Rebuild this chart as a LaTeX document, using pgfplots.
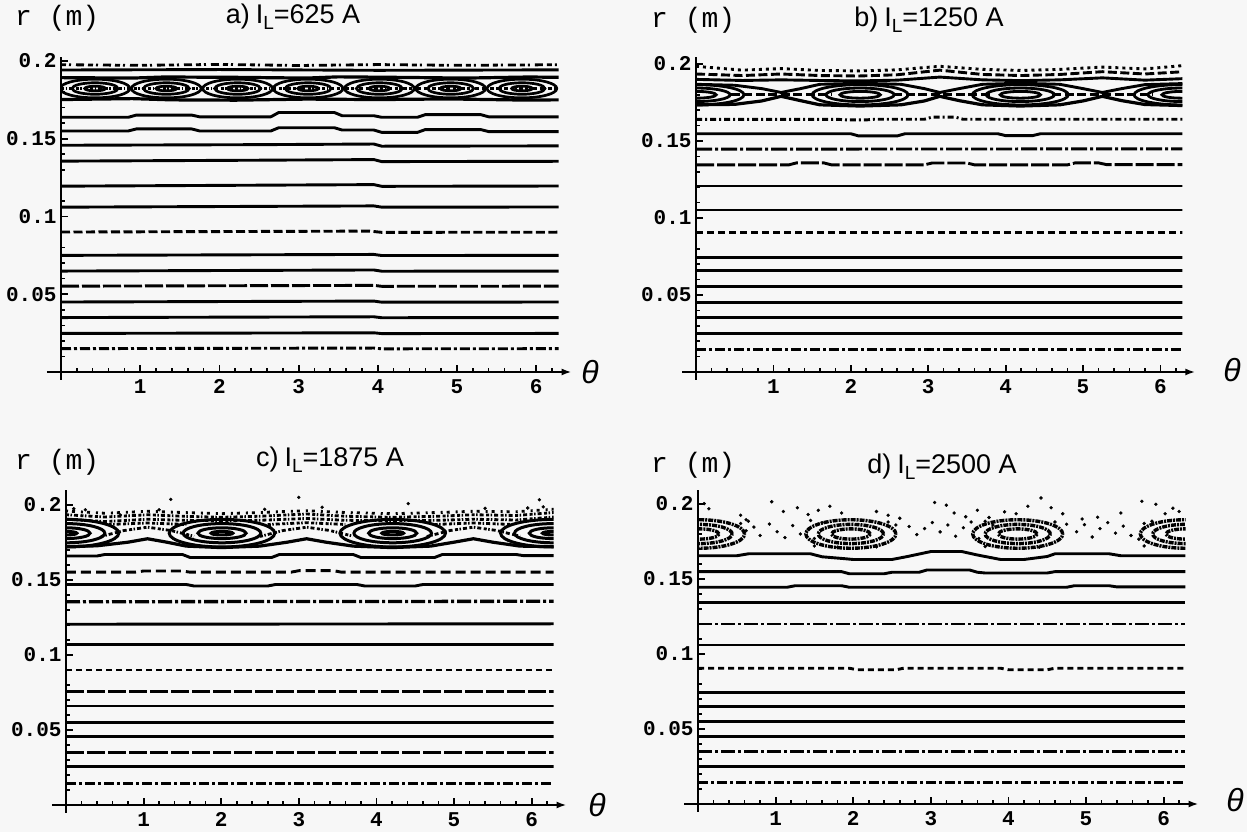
\documentclass[border=0pt]{standalone}
\usepackage{fontspec}
\setmainfont{Liberation Sans}
\newfontfamily\monofont{Liberation Mono}
\usepackage{pgfplots}
\pgfplotsset{compat=1.18}
\usetikzlibrary{arrows.meta}

\newcommand\tickfont{\monofont\bfseries\fontsize{21}{21}\selectfont}
\newcommand\rfont{\monofont\fontsize{28}{28}\selectfont}
\newcommand\titfont{\fontsize{27}{27}\selectfont}
\newcommand\thfont{\fontsize{32}{32}\selectfont\itshape}
\newcommand\IL{I\raisebox{-6pt}{\fontsize{19}{19}\selectfont L}}

% an island ring: half-axes \ringa, \ringb (pt) come from the table
\pgfdeclareplotmark{ring}{%
  \pgfpathellipse{\pgfpointorigin}{\pgfpoint{\ringa pt}{0pt}}{\pgfpoint{0pt}{\ringb pt}}%
  \pgfusepathqstroke}

\pgfplotsset{
  poincare/.style={
    axis lines=middle,
    xmin=0, xmax=6.2832, ymin=0,
    clip=true, clip marker paths=true,
    axis line style={line width=2.2pt, black},
    x axis line style={-{Latex[length=10pt,width=7pt]}, shorten <=-14pt, shorten >=-13pt},
    y axis line style={-, shorten <=-8pt},
    xtick={1,2,3,4,5,6},
    xticklabels={1,2,3,4,5,6},
    minor xtick={0.2,0.4,...,6.2},
    ytick={0.05,0.1,0.15,0.2},
    yticklabels={0.05,0.1,0.15,0.2},
    minor ytick={0.01,0.02,...,0.2},
    tick align=inside,
    major tick length=7pt, minor tick length=4pt,
    tick style={black, line width=1.8pt},
    minor tick style={black, line width=1.6pt},
    ticklabel style={font=\tickfont, text=black},
    xticklabel style={yshift=-4pt},
    yticklabel style={xshift=-1pt},
  },
  orbit/.style={black, solid, line width=2.9pt, line cap=butt, line join=round, mark=none},
  odash/.style={orbit, dash pattern=on 9pt off 3.5pt},
  odot/.style={orbit, dash pattern=on 3pt off 4pt},
  odashdot/.style={orbit, dash pattern=on 10pt off 3pt on 3pt off 3pt},
  olong/.style={orbit, dash pattern=on 18pt off 3pt},
  ochaos/.style={orbit, line width=2.8pt, dash pattern=on 3pt off 1.5pt on 1.5pt off 2pt on 4pt off 2.5pt},
  islands/.style={scatter, only marks, mark=ring, point meta=y,
    scatter/use mapped color={draw=black}},
  dots/.style={only marks, mark=*, mark size=1.5pt, black, mark options={solid, fill=black, draw=black}},
}

\begin{document}
\begin{tikzpicture}
\fill[black!3] (0pt,0pt) rectangle (1247pt,832pt);
\useasboundingbox (0pt,0pt) rectangle (1247pt,832pt);

% ===================== a) I_L = 625 A =====================
\begin{axis}[poincare, at={(61pt,460pt)}, anchor=south west, x=79.2pt, y=1555pt, ymax=0.2026]
% chaotic layer at the top
\addplot[ochaos, dash pattern=on 5pt off 3pt on 2pt off 5pt on 8pt off 4pt] coordinates {(0,0.1976) (1.0,0.1972) (2.0,0.1978) (3.0,0.1971) (4.0,0.1977) (5.0,0.1972) (6.29,0.1976)};
\addplot[orbit] coordinates {(0,0.1942) (2.0,0.1945) (4.0,0.1940) (6.29,0.1943)};
% island chain
\addplot[orbit, line width=3.2pt] coordinates {(0,0.1893) (0.9,0.1890) (1.3,0.1897) (2.2,0.1895) (3.1,0.1890) (3.5,0.1898) (4.2,0.1895) (5.1,0.1890) (5.9,0.1897) (6.29,0.1895)};
\addplot[orbit, line width=3.2pt] coordinates {(0,0.1752) (0.9,0.1758) (1.4,0.1750) (2.2,0.1748) (3.1,0.1755) (4.0,0.1752) (4.9,0.1756) (5.8,0.1749) (6.29,0.1750)};
\addplot[ochaos] coordinates {(0,0.1823) (6.29,0.1823)};
\addplot[islands, mark options={solid, line width=2.7pt},
  visualization depends on={\thisrow{a}*79.2 \as \ringa},
  visualization depends on={\thisrow{b}*1555 \as \ringb}]
  table[row sep=\\] {t r a b\\
  0.43 0.1823 0.44 0.0060\\ 0.43 0.1823 0.29 0.0037\\ 0.43 0.1823 0.13 0.0015\\
  1.33 0.1823 0.44 0.0060\\ 1.33 0.1823 0.29 0.0037\\ 1.33 0.1823 0.13 0.0015\\
  2.23 0.1823 0.44 0.0060\\ 2.23 0.1823 0.29 0.0037\\ 2.23 0.1823 0.13 0.0015\\
  3.12 0.1823 0.44 0.0060\\ 3.12 0.1823 0.29 0.0037\\ 3.12 0.1823 0.13 0.0015\\
  4.02 0.1823 0.44 0.0060\\ 4.02 0.1823 0.29 0.0037\\ 4.02 0.1823 0.13 0.0015\\
  4.92 0.1823 0.44 0.0060\\ 4.92 0.1823 0.29 0.0037\\ 4.92 0.1823 0.13 0.0015\\
  5.82 0.1823 0.44 0.0060\\ 5.82 0.1823 0.29 0.0037\\ 5.82 0.1823 0.13 0.0015\\
  };
% KAM surfaces
\addplot[orbit] coordinates {(0,0.1638) (0.85,0.1638) (0.95,0.1652) (1.65,0.1652) (1.75,0.1641) (2.65,0.1641) (2.75,0.1669) (3.45,0.1669) (3.55,0.1648) (3.95,0.1648) (4.05,0.1638) (4.5,0.1638) (4.6,0.1655) (5.3,0.1655) (5.4,0.1641) (6.29,0.1641)};
\addplot[orbit] coordinates {(0,0.1550) (0.85,0.1550) (0.95,0.1563) (1.65,0.1563) (1.75,0.1550) (2.65,0.1550) (2.75,0.1571) (3.45,0.1571) (3.55,0.1556) (3.95,0.1556) (4.05,0.1541) (4.5,0.1541) (4.6,0.1559) (5.3,0.1559) (5.4,0.1546) (6.29,0.1546)};
\addplot[orbit] coordinates {(0,0.1458) (2.5,0.1462) (3.95,0.1466) (4.05,0.1452) (6.29,0.1454)};
\addplot[orbit] coordinates {(0,0.1356) (2.5,0.1362) (3.95,0.1366) (4.05,0.1353) (6.29,0.1355)};
\addplot[orbit] coordinates {(0,0.1195) (3.95,0.1205) (4.05,0.1194) (6.29,0.1196)};
\addplot[orbit] coordinates {(0,0.1060) (3.95,0.1068) (4.05,0.1060) (6.29,0.1061)};
\addplot[odash] coordinates {(0,0.0900) (3.9,0.0906) (4.05,0.0898) (6.29,0.0899)};
\addplot[orbit] coordinates {(0,0.0750) (3.95,0.0756) (4.05,0.0749) (6.29,0.0750)};
\addplot[orbit] coordinates {(0,0.0649) (3.95,0.0656) (4.05,0.0648) (6.29,0.0649)};
\addplot[olong] coordinates {(0,0.0552) (3.95,0.0557) (4.05,0.0551) (6.29,0.0552)};
\addplot[orbit] coordinates {(0,0.0450) (3.95,0.0456) (4.05,0.0449) (6.29,0.0450)};
\addplot[orbit] coordinates {(0,0.0350) (3.95,0.0355) (4.05,0.0349) (6.29,0.0350)};
\addplot[orbit] coordinates {(0,0.0248) (3.95,0.0252) (4.05,0.0247) (6.29,0.0248)};
\addplot[odashdot] coordinates {(0,0.0150) (3.95,0.0154) (4.05,0.0149) (6.29,0.0150)};
\end{axis}

% ===================== b) I_L = 1250 A =====================
\begin{axis}[poincare, at={(696pt,460pt)}, anchor=south west, x=77.4pt, y=1540pt, ymax=0.2045]
\addplot[odot] coordinates {(0,0.1985) (0.6,0.1960) (1.1,0.1970) (1.6,0.1958) (2.1,0.1955) (2.6,0.1962) (3.15,0.1985) (3.7,0.1965) (4.2,0.1958) (4.7,0.1965) (5.25,0.1980) (5.8,0.1968) (6.3,0.1990)};
\addplot[odash] coordinates {(0,0.1935) (0.6,0.1925) (1.1,0.1935) (1.6,0.1925) (2.1,0.1922) (2.6,0.1930) (3.15,0.1960) (3.7,0.1932) (4.2,0.1925) (4.7,0.1932) (5.25,0.1950) (5.8,0.1935) (6.3,0.1950)};
\addplot[orbit] coordinates {(0,0.1900) (0.6,0.1893) (1.1,0.1897) (1.6,0.1893) (2.1,0.1890) (2.6,0.1895) (3.15,0.1915) (3.7,0.1897) (4.2,0.1892) (4.7,0.1897) (5.25,0.1910) (5.8,0.1895) (6.3,0.1905)};
\addplot[orbit] coordinates {(0,0.1868) (0.5,0.1862) (0.85,0.1840) (1.1,0.1815) (1.35,0.1840) (1.6,0.1868) (2.12,0.1875) (2.65,0.1868) (2.95,0.1840) (3.15,0.1815) (3.4,0.1840) (3.7,0.1868) (4.19,0.1875) (4.7,0.1868) (5.0,0.1840) (5.25,0.1815) (5.5,0.1840) (5.8,0.1866) (6.3,0.1873)};
\addplot[orbit, line width=3.2pt] coordinates {(0,0.1735) (0.5,0.1738) (0.85,0.1760) (1.1,0.1790) (1.35,0.1762) (1.6,0.1735) (2.12,0.1727) (2.65,0.1735) (2.95,0.1760) (3.15,0.1790) (3.4,0.1762) (3.7,0.1735) (4.19,0.1727) (4.7,0.1735) (5.0,0.1760) (5.25,0.1790) (5.5,0.1762) (5.8,0.1737) (6.3,0.1730)};
\addplot[odash] coordinates {(0.45,0.1800) (1.75,0.1800)};
\addplot[odash] coordinates {(2.55,0.1800) (3.8,0.1800)};
\addplot[odash] coordinates {(4.6,0.1800) (5.9,0.1800)};
\addplot[islands, mark options={solid, line width=2.8pt},
  visualization depends on={\thisrow{a}*77.4 \as \ringa},
  visualization depends on={\thisrow{b}*1540 \as \ringb}]
  table[row sep=\\] {t r a b\\
  0.00 0.1800 0.62 0.0066\\ 0.00 0.1800 0.44 0.0044\\ 0.00 0.1800 0.26 0.0022\\
  2.12 0.1800 0.62 0.0066\\ 2.12 0.1800 0.44 0.0044\\ 2.12 0.1800 0.26 0.0022\\
  4.19 0.1800 0.62 0.0066\\ 4.19 0.1800 0.44 0.0044\\ 4.19 0.1800 0.26 0.0022\\
  6.28 0.1800 0.62 0.0066\\ 6.28 0.1800 0.44 0.0044\\ 6.28 0.1800 0.26 0.0022\\
  };
\addplot[odash, dash pattern=on 6pt off 3pt on 2pt off 3pt] coordinates {(0,0.1640) (1.85,0.1640) (1.95,0.1637) (2.2,0.1637) (2.3,0.1641) (2.95,0.1641) (3.05,0.1655) (3.35,0.1655) (3.45,0.1641) (6.3,0.1641)};
\addplot[orbit] coordinates {(0,0.1547) (2.0,0.1547) (2.1,0.1533) (2.6,0.1533) (2.7,0.1547) (3.9,0.1547) (4.0,0.1535) (4.35,0.1535) (4.45,0.1547) (6.3,0.1547)};
\addplot[odashdot, dash pattern=on 16pt off 3pt on 3pt off 3pt] coordinates {(0,0.1447) (6.3,0.1449)};
\addplot[olong] coordinates {(0,0.1345) (1.2,0.1345) (1.3,0.1358) (1.65,0.1358) (1.75,0.1345) (2.95,0.1345) (3.05,0.1357) (3.5,0.1357) (3.6,0.1345) (4.8,0.1345) (4.9,0.1358) (5.2,0.1358) (5.3,0.1347) (6.3,0.1347)};
\addplot[orbit] coordinates {(0,0.1208) (6.3,0.1208)};
\addplot[orbit] coordinates {(0,0.1052) (6.3,0.1052)};
\addplot[odash, dash pattern=on 7pt off 4pt] coordinates {(0,0.0905) (6.3,0.0905)};
\addplot[orbit] coordinates {(0,0.0746) (6.3,0.0746)};
\addplot[orbit] coordinates {(0,0.0658) (6.3,0.0658)};
\addplot[orbit] coordinates {(0,0.0558) (6.3,0.0558)};
\addplot[orbit] coordinates {(0,0.0450) (6.3,0.0450)};
\addplot[orbit] coordinates {(0,0.0355) (6.3,0.0355)};
\addplot[orbit] coordinates {(0,0.0251) (6.3,0.0251)};
\addplot[odashdot] coordinates {(0,0.0147) (6.3,0.0147)};
\end{axis}

% ===================== c) I_L = 1875 A =====================
\begin{axis}[poincare, at={(66pt,27pt)}, anchor=south west, x=77.6pt, y=1500pt, ymax=0.21]
\addplot[ochaos, dash pattern=on 2pt off 4pt on 3pt off 6pt] coordinates {(0,0.1960) (0.5,0.1945) (1.05,0.1958) (1.5,0.1950) (2.0,0.1942) (2.5,0.1950) (3.1,0.1962) (3.6,0.1950) (4.2,0.1942) (4.8,0.1950) (5.25,0.1958) (5.8,0.1955) (6.29,0.1972)};
\addplot[ochaos] coordinates {(0,0.1935) (0.5,0.1920) (1.05,0.1935) (1.5,0.1925) (2.0,0.1918) (2.5,0.1925) (3.1,0.1940) (3.6,0.1925) (4.2,0.1918) (4.8,0.1925) (5.25,0.1935) (5.8,0.1930) (6.29,0.1950)};
\addplot[ochaos] coordinates {(0,0.1905) (0.5,0.1890) (1.05,0.1905) (1.5,0.1898) (2.0,0.1895) (2.5,0.1898) (3.1,0.1910) (3.6,0.1898) (4.2,0.1895) (4.8,0.1898) (5.25,0.1905) (5.8,0.1900) (6.29,0.1920)};
\addplot[ochaos] coordinates {(0.45,0.1790) (0.75,0.1830) (1.05,0.1852) (1.35,0.1830) (1.65,0.1792)};
\addplot[ochaos] coordinates {(2.5,0.1790) (2.8,0.1830) (3.1,0.1852) (3.4,0.1830) (3.7,0.1792)};
\addplot[ochaos] coordinates {(4.65,0.1790) (4.95,0.1830) (5.25,0.1852) (5.55,0.1830) (5.85,0.1792)};
\addplot[ochaos] coordinates {(0.55,0.1870) (1.05,0.1880) (1.55,0.1870)};
\addplot[ochaos] coordinates {(2.6,0.1870) (3.1,0.1882) (3.6,0.1870)};
\addplot[ochaos] coordinates {(4.75,0.1870) (5.25,0.1880) (5.75,0.1870)};
\addplot[orbit, line width=3.2pt] coordinates {(0,0.1722) (0.4,0.1728) (0.8,0.1752) (1.05,0.1775) (1.3,0.1752) (1.55,0.1726) (2.0,0.1716) (2.5,0.1726) (2.85,0.1752) (3.1,0.1775) (3.35,0.1752) (3.7,0.1726) (4.2,0.1716) (4.7,0.1726) (5.0,0.1752) (5.25,0.1775) (5.5,0.1752) (5.85,0.1726) (6.29,0.1722)};
\addplot[islands, mark options={solid, line width=3pt},
  visualization depends on={\thisrow{a}*77.6 \as \ringa},
  visualization depends on={\thisrow{b}*1500 \as \ringb}]
  table[row sep=\\] {t r a b\\
  0.00 0.1812 0.68 0.0092\\ 0.00 0.1812 0.50 0.0064\\ 0.00 0.1812 0.31 0.0036\\ 0.00 0.1812 0.14 0.0012\\
  2.01 0.1812 0.68 0.0092\\ 2.01 0.1812 0.50 0.0064\\ 2.01 0.1812 0.31 0.0036\\ 2.01 0.1812 0.14 0.0012\\
  4.21 0.1812 0.68 0.0092\\ 4.21 0.1812 0.50 0.0064\\ 4.21 0.1812 0.31 0.0036\\ 4.21 0.1812 0.14 0.0012\\
  6.28 0.1812 0.68 0.0092\\ 6.28 0.1812 0.50 0.0064\\ 6.28 0.1812 0.31 0.0036\\ 6.28 0.1812 0.14 0.0012\\
  };
\addplot[dots] coordinates {(0.70,0.1933) (1.35,0.2038) (2.56,0.1971) (3.0,0.2051) (4.41,0.2009) (6.1,0.2035) (0.1,0.1975) (0.25,0.1968) (5.95,0.1980) (6.15,0.1988) (1.2,0.1968) (3.3,0.1985) (5.4,0.1978)};
\addplot[orbit] coordinates {(0,0.1660) (0.4,0.1660) (0.5,0.1670) (1.5,0.1670) (1.6,0.1650) (2.65,0.1650) (2.75,0.1670) (3.7,0.1670) (3.8,0.1650) (4.75,0.1650) (4.85,0.1670) (5.8,0.1670) (5.9,0.1662) (6.29,0.1662)};
\addplot[odash, dash pattern=on 10pt off 5pt] coordinates {(0,0.1552) (0.9,0.1552) (1.0,0.1560) (1.5,0.1560) (1.6,0.1552) (2.9,0.1552) (3.0,0.1562) (3.45,0.1562) (3.55,0.1552) (6.29,0.1552)};
\addplot[orbit] coordinates {(0,0.1470) (1.55,0.1470) (1.65,0.1460) (2.6,0.1460) (2.7,0.1470) (3.75,0.1470) (3.85,0.1460) (4.5,0.1460) (4.6,0.1470) (6.29,0.1470)};
\addplot[odashdot, line width=3.3pt, dash pattern=on 14pt off 3pt on 3pt off 3pt] coordinates {(0,0.1355) (6.29,0.1358)};
\addplot[orbit] coordinates {(0,0.1205) (6.29,0.1208)};
\addplot[orbit] coordinates {(0,0.1067) (6.29,0.1067)};
\addplot[odash, dash pattern=on 6pt off 4pt] coordinates {(0,0.0900) (6.29,0.0900)};
\addplot[olong] coordinates {(0,0.0755) (6.29,0.0755)};
\addplot[orbit] coordinates {(0,0.0660) (6.29,0.0660)};
\addplot[orbit] coordinates {(0,0.0551) (6.29,0.0551)};
\addplot[orbit] coordinates {(0,0.0455) (6.29,0.0455)};
\addplot[olong] coordinates {(0,0.0349) (6.29,0.0349)};
\addplot[orbit] coordinates {(0,0.0255) (6.29,0.0255)};
\addplot[odashdot] coordinates {(0,0.0145) (6.29,0.0145)};
\end{axis}

% ===================== d) I_L = 2500 A =====================
\begin{axis}[poincare, at={(698pt,28pt)}, anchor=south west, x=77.6pt, y=1500pt, ymax=0.209]
\addplot[islands, mark options={line width=3.4pt, dash pattern=on 5pt off 1pt on 2pt off 1pt},
  visualization depends on={\thisrow{a}*77.6 \as \ringa},
  visualization depends on={\thisrow{b}*1500 \as \ringb}]
  table[row sep=\\] {t r a b\\
  0.02 0.1800 0.58 0.0095\\ 0.02 0.1800 0.42 0.0064\\ 0.02 0.1800 0.25 0.0034\\
  1.97 0.1800 0.58 0.0095\\ 1.97 0.1800 0.42 0.0064\\ 1.97 0.1800 0.25 0.0034\\
  4.12 0.1800 0.58 0.0095\\ 4.12 0.1800 0.42 0.0064\\ 4.12 0.1800 0.25 0.0034\\
  6.28 0.1800 0.58 0.0095\\ 6.28 0.1800 0.42 0.0064\\ 6.28 0.1800 0.25 0.0034\\
  };
\addplot[dots] coordinates {
  (0.08,0.2003) (0.14,0.1968) (0.55,0.1925) (0.62,0.1895) (0.95,0.2015) (1.1,0.1950)
  (1.28,0.1975) (1.42,0.1930) (1.55,0.1958) (1.7,0.1985) (1.85,0.1940) (2.3,0.1950)
  (2.45,0.1925) (2.6,0.1905) (3.05,0.2010) (3.2,0.1992) (3.3,0.1940) (3.45,0.1915)
  (3.6,0.1958) (3.75,0.1910) (3.95,0.1948) (4.1,0.1935) (4.25,0.1985) (4.42,0.2040)
  (4.55,0.1975) (4.7,0.1935) (4.95,0.1900) (5.15,0.1912) (5.45,0.1940) (5.72,0.2018)
  (5.9,0.1998) (6.12,0.1972) (6.02,0.1935) (6.2,0.1950)
  (0.62,0.1822) (0.72,0.1846) (0.80,0.1790) (0.92,0.1866) (1.02,0.1815) (1.12,0.1776)
  (1.22,0.1856) (1.32,0.1800) (1.42,0.1832) (1.50,0.1770) (2.72,0.1850) (2.82,0.1796)
  (2.92,0.1836) (3.02,0.1876) (3.12,0.1814) (3.22,0.1860) (3.32,0.1785) (3.42,0.1842)
  (3.52,0.1880) (3.62,0.1770) (4.88,0.1815) (4.98,0.1862) (5.08,0.1780) (5.18,0.1836)
  (5.28,0.1876) (5.38,0.1806) (5.48,0.1852) (5.58,0.1790) (5.68,0.1765)
  (1.45,0.1890) (1.6,0.1875) (2.45,0.1880) (2.55,0.1860) (3.7,0.1885) (3.8,0.1860)
  (4.6,0.1880) (4.75,0.1865) (5.75,0.1870) (5.85,0.1885) (0.55,0.1870) (0.65,0.1885)
  (1.5,0.1720) (1.8,0.1712) (2.3,0.1714) (3.7,0.1716) (4.4,0.1712) (5.75,0.1720)};
\addplot[orbit] coordinates {(0,0.1655) (0.5,0.1655) (0.65,0.1668) (1.45,0.1668) (1.6,0.1648) (1.9,0.1635) (2.0,0.1630) (2.5,0.1630) (2.7,0.1650) (3.0,0.1683) (3.4,0.1683) (3.6,0.1660) (3.9,0.1630) (4.2,0.1630) (4.5,0.1650) (4.6,0.1668) (5.3,0.1668) (5.45,0.1655) (6.28,0.1655)};
\addplot[orbit] coordinates {(0,0.1549) (1.85,0.1549) (1.95,0.1535) (2.4,0.1535) (2.5,0.1545) (2.85,0.1545) (2.95,0.1560) (3.5,0.1560) (3.6,0.1545) (3.7,0.1540) (4.5,0.1540) (4.6,0.1549) (6.28,0.1549)};
\addplot[orbit] coordinates {(0,0.1445) (1.15,0.1445) (1.25,0.1455) (1.85,0.1455) (1.95,0.1445) (4.75,0.1445) (4.85,0.1455) (5.3,0.1455) (5.4,0.1447) (6.28,0.1447)};
\addplot[orbit] coordinates {(0,0.1345) (6.28,0.1345)};
\addplot[odashdot, dash pattern=on 14pt off 3pt on 3pt off 3pt] coordinates {(0,0.1200) (6.28,0.1200)};
\addplot[orbit] coordinates {(0,0.1060) (6.28,0.1060)};
\addplot[odash, dash pattern=on 6pt off 4pt] coordinates {(0,0.0905) (1.95,0.0905) (2.05,0.0895) (2.55,0.0895) (2.65,0.0905) (3.9,0.0905) (4.0,0.0895) (4.5,0.0895) (4.6,0.0905) (6.28,0.0905)};
\addplot[orbit] coordinates {(0,0.0742) (6.28,0.0742)};
\addplot[orbit] coordinates {(0,0.0649) (6.28,0.0649)};
\addplot[orbit] coordinates {(0,0.0549) (6.28,0.0549)};
\addplot[orbit] coordinates {(0,0.0449) (6.28,0.0449)};
\addplot[odashdot, dash pattern=on 14pt off 3pt on 3pt off 3pt] coordinates {(0,0.0349) (6.28,0.0349)};
\addplot[orbit] coordinates {(0,0.0249) (6.28,0.0249)};
\addplot[odashdot] coordinates {(0,0.0145) (6.28,0.0145)};
\end{axis}

% ---------- labels ----------
\node[anchor=west, font=\rfont, inner sep=0pt] at (15pt,814pt) {r (m)};
\node[font=\titfont, inner sep=0pt] at (293pt,815pt) {a)\hspace{6pt}\IL=625 A};
\node[font=\thfont, inner sep=0pt] at (590pt,460pt) {θ};

\node[anchor=west, font=\rfont, inner sep=0pt] at (651pt,812pt) {r (m)};
\node[font=\titfont, inner sep=0pt] at (929pt,812pt) {b)\hspace{6pt}\IL=1250 A};
\node[font=\thfont, inner sep=0pt] at (1232pt,462pt) {θ};

\node[anchor=west, font=\rfont, inner sep=0pt] at (15pt,370pt) {r (m)};
\node[font=\titfont, inner sep=0pt] at (330pt,372pt) {c)\hspace{6pt}\IL=1875 A};
\node[font=\thfont, inner sep=0pt] at (597pt,27pt) {θ};

\node[anchor=west, font=\rfont, inner sep=0pt] at (651pt,367pt) {r (m)};
\node[font=\titfont, inner sep=0pt] at (942pt,365pt) {d)\hspace{6pt}\IL=2500 A};
\node[font=\thfont, inner sep=0pt] at (1235pt,32pt) {θ};
\end{tikzpicture}
\end{document}
